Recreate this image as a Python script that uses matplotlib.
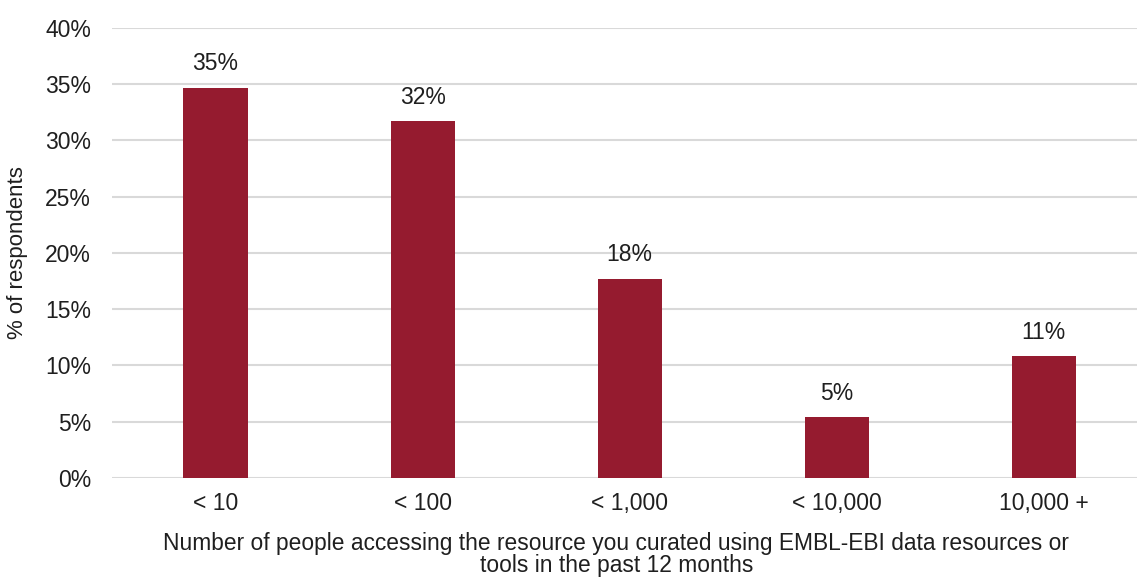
import matplotlib
matplotlib.use("Agg")
import matplotlib.pyplot as plt
import numpy as np

# ── Data ──────────────────────────────────────────────────────────────────────
categories = ["< 10", "< 100", "< 1,000", "< 10,000", "10,000 +"]
values = [34.7, 31.7, 17.7, 5.4, 10.8]
bar_labels = ["35%", "32%", "18%", "5%", "11%"]
yticks = [0, 5, 10, 15, 20, 25, 30, 35, 40]

plt.rcParams["font.family"] = ["Liberation Sans", "DejaVu Sans"]
TXT = "#1f1f1f"

fig = plt.figure(figsize=(11.37, 5.77), dpi=100)
ax = fig.add_axes([0.0985, 0.1716, 0.9015, 0.78])

x = np.arange(len(categories))
bars = ax.bar(x, values, width=0.31, color="#951B2F", zorder=3)

for b, lab in zip(bars, bar_labels):
    ax.annotate(lab, (b.get_x() + b.get_width() / 2, b.get_height()),
                xytext=(0, 9), textcoords="offset points",
                ha="center", va="bottom", fontsize=16.5, color=TXT)

ax.set_xlim(-0.5, 4.45)
ax.set_ylim(0, 40)
ax.set_yticks(yticks)
ax.set_yticklabels([f"{t}%" for t in yticks], fontsize=16.5, color=TXT)
ax.set_xticks(x)
ax.set_xticklabels(categories, fontsize=16.5, color=TXT)
ax.tick_params(axis="both", length=0)
ax.tick_params(axis="x", pad=10)
ax.tick_params(axis="y", pad=15)

ax.grid(True, axis="y", color="#D9D9D9", linewidth=1.5, zorder=0)
for s in ax.spines.values():
    s.set_visible(False)

ax.set_ylabel("% of respondents", fontsize=16, color=TXT, labelpad=12)
ax.set_xlabel("Number of people accessing the resource you curated using EMBL-EBI data resources or\n"
              "tools in the past 12 months", fontsize=16.4, color=TXT,
              linespacing=0.95)
ax.xaxis.set_label_coords(0.492, -0.12)
ax.xaxis.label.set_va("top")

fig.savefig("out.png", dpi=100)
